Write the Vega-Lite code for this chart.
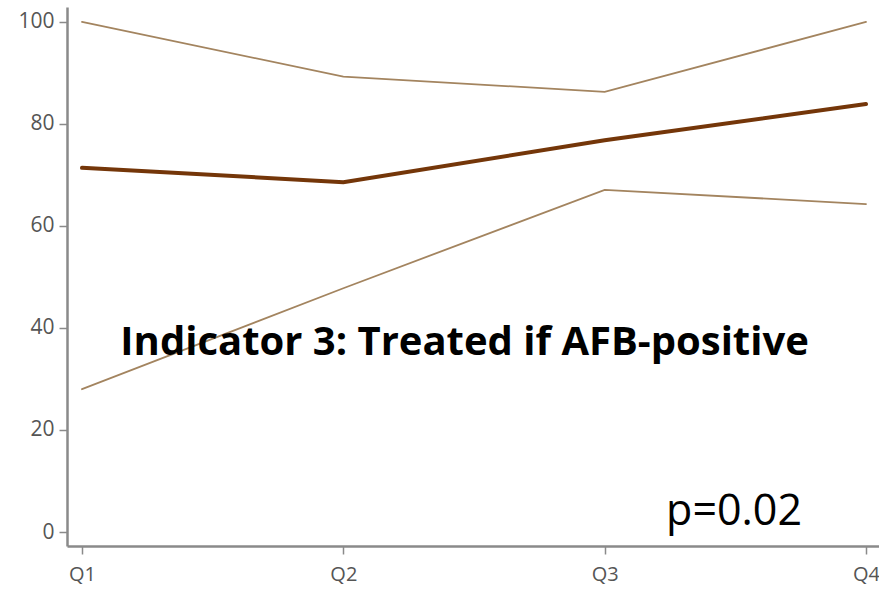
{
  "$schema": "https://vega.github.io/schema/vega-lite/v6.json",
  "width": 812,
  "height": 539,
  "autosize": "none",
  "padding": {"left": 67, "top": 7, "right": 0, "bottom": 47},
  "background": "white",
  "config": {"view": {"stroke": null}, "font": "Open Sans"},
  "datasets": {
    "lines": [
      {"q": 1, "series": "upper", "value": 100},
      {"q": 2, "series": "upper", "value": 89.3},
      {"q": 3, "series": "upper", "value": 86.3},
      {"q": 4, "series": "upper", "value": 100},
      {"q": 1, "series": "lower", "value": 28.0},
      {"q": 2, "series": "lower", "value": 47.8},
      {"q": 3, "series": "lower", "value": 67.1},
      {"q": 4, "series": "lower", "value": 64.3},
      {"q": 1, "series": "estimate", "value": 71.4},
      {"q": 2, "series": "estimate", "value": 68.6},
      {"q": 3, "series": "estimate", "value": 76.8},
      {"q": 4, "series": "estimate", "value": 83.9}
    ],
    "notes": [
      {"q": 2.464, "value": 34.7, "label": "Indicator 3: Treated if AFB-positive", "kind": "title"},
      {"q": 3.495, "value": 1.4, "label": "p=0.02", "kind": "p"}
    ]
  },
  "layer": [
    {
      "data": {"name": "lines"},
      "transform": [{"filter": "datum.series != 'estimate'"}],
      "mark": {"type": "line", "strokeCap": "round", "strokeWidth": 1.8, "color": "#a3845f"},
      "encoding": {
        "x": {
          "field": "q", "type": "quantitative",
          "scale": {"domain": [0.9426, 4.0497], "nice": false, "zero": false},
          "axis": {
            "values": [1, 2, 3, 4], "labelExpr": "'Q' + datum.value", "title": null,
            "grid": false, "domainColor": "#8a8a8a", "domainWidth": 2.5,
            "tickColor": "#8a8a8a", "tickSize": 8, "tickWidth": 1.5,
            "labelFontSize": 20, "labelColor": "#555555", "labelPadding": 10, "labelFont": "Open Sans"
          }
        },
        "y": {
          "field": "value", "type": "quantitative",
          "scale": {"domain": [-2.745, 102.94], "nice": false, "zero": false},
          "axis": {
            "values": [0, 20, 40, 60, 80, 100], "title": null, "grid": false,
            "domainColor": "#8a8a8a", "domainWidth": 2.5,
            "tickColor": "#8a8a8a", "tickSize": 8, "tickWidth": 1.5,
            "labelFontSize": 21, "labelColor": "#555555", "labelPadding": 5, "labelFont": "Open Sans"
          }
        },
        "detail": {"field": "series"},
        "order": {"field": "q"}
      }
    },
    {
      "data": {"name": "lines"},
      "transform": [{"filter": "datum.series == 'estimate'"}],
      "mark": {"type": "line", "strokeCap": "round", "strokeWidth": 4, "color": "#743609"},
      "encoding": {
        "x": {"field": "q", "type": "quantitative"},
        "y": {"field": "value", "type": "quantitative"},
        "order": {"field": "q"}
      }
    },
    {
      "data": {"name": "notes"},
      "transform": [{"filter": "datum.kind == 'title'"}],
      "mark": {"type": "text", "font": "Open Sans", "fontWeight": "bold", "fontSize": 40, "color": "#000000", "align": "center", "baseline": "alphabetic"},
      "encoding": {
        "x": {"field": "q", "type": "quantitative"},
        "y": {"field": "value", "type": "quantitative"},
        "text": {"field": "label"}
      }
    },
    {
      "data": {"name": "notes"},
      "transform": [{"filter": "datum.kind == 'p'"}],
      "mark": {"type": "text", "font": "Open Sans", "fontSize": 43, "color": "#000000", "align": "center", "baseline": "alphabetic"},
      "encoding": {
        "x": {"field": "q", "type": "quantitative"},
        "y": {"field": "value", "type": "quantitative"},
        "text": {"field": "label"}
      }
    }
  ]
}
